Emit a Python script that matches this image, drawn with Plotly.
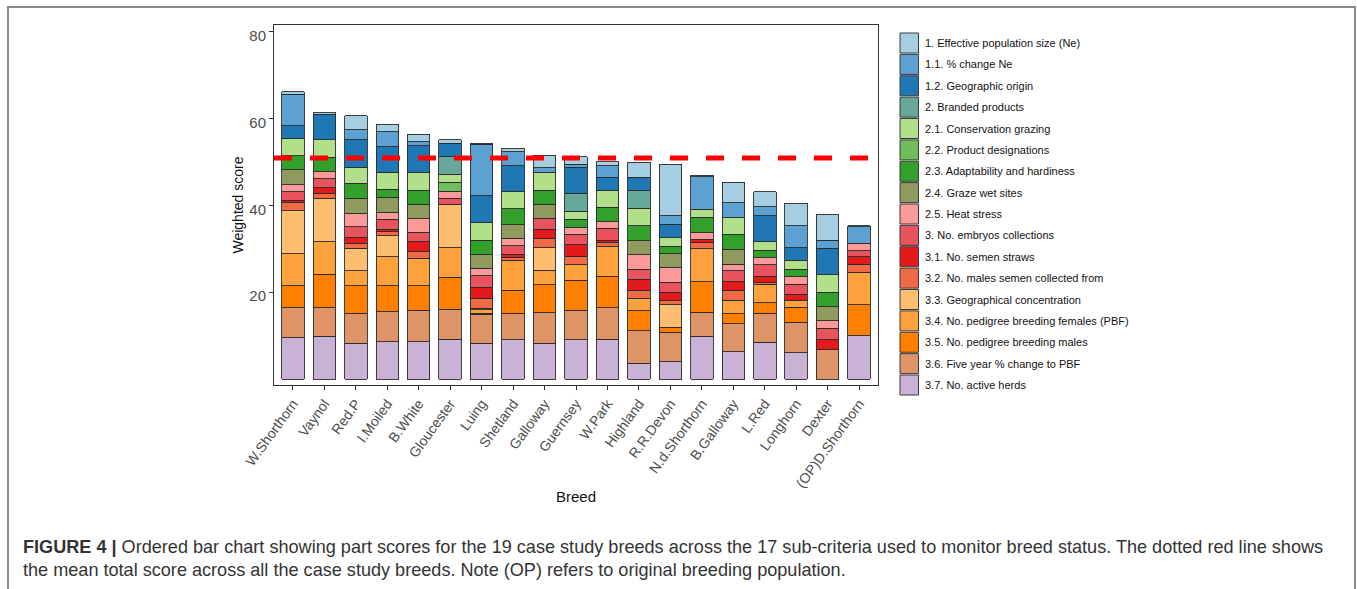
import plotly.graph_objects as go

# Breeds, ordered by total weighted score
breeds = ["W.Shorthorn", "Vaynol", "Red.P", "I.Moiled", "B.White", "Gloucester",
          "Luing", "Shetland", "Galloway", "Guernsey", "W.Park", "Highland",
          "R.R.Devon", "N.d.Shorthorn", "B.Galloway", "L.Red", "Longhorn",
          "Dexter", "(OP)D.Shorthorn"]

# Part scores per sub-criterion (one value per breed, same order as breeds)
ne            = [0.6, 0.3, 3.3, 1.7, 1.7, 0.8, 0.2, 0.8, 2.9, 1.7, 1.0, 3.5, 11.9, 0.3, 4.7, 3.5, 5.2, 5.9, 0.2]
ne_change     = [7.2, 0, 2.3, 3.5, 1.0, 0, 11.9, 3.3, 1.1, 0.7, 2.6, 0, 1.9, 7.5, 3.4, 2.1, 5.0, 1.9, 3.8]
geo_origin    = [2.9, 5.9, 6.3, 5.9, 6.2, 3.1, 6.1, 6.0, 0, 6.0, 3.0, 3.1, 3.1, 0, 0, 6.0, 2.9, 6.1, 0]
branded       = [0, 0, 0, 0, 0, 4.0, 0, 0, 0, 4.1, 0, 4.1, 0, 0, 0, 0, 0, 0, 0]
cons_grazing  = [4.0, 4.0, 3.7, 3.9, 4.0, 1.9, 4.1, 3.9, 4.1, 1.9, 3.9, 4.0, 2.0, 1.8, 3.9, 1.9, 2.1, 4.0, 0]
product_desig = [0, 0, 0, 0, 0, 2.0, 0, 0, 0, 0, 0, 0, 0, 0, 0, 0, 0, 0, 0]
adaptability  = [3.3, 3.3, 3.5, 1.8, 3.2, 0, 3.3, 3.6, 3.2, 1.8, 3.4, 3.4, 1.6, 3.6, 3.4, 1.8, 1.7, 3.3, 0]
wet_sites     = [3.4, 0, 3.4, 3.5, 3.4, 0, 3.2, 3.2, 3.3, 0, 0, 3.3, 3.4, 0, 3.4, 0, 0, 3.3, 0]
heat_stress   = [1.6, 1.6, 3.1, 1.6, 3.1, 1.7, 1.7, 1.7, 0, 1.7, 1.5, 3.3, 3.3, 1.5, 1.6, 1.6, 1.8, 1.7, 1.7]
embryos       = [2.0, 2.1, 2.5, 2.3, 2.2, 1.3, 2.7, 2.0, 2.5, 2.4, 2.7, 2.3, 2.3, 0, 2.5, 2.6, 2.3, 2.6, 1.4]
semen_straws  = [0.6, 1.3, 1.3, 0.6, 2.3, 0, 2.5, 0.7, 2.1, 2.6, 0.6, 2.5, 2.0, 0.8, 1.9, 1.5, 1.3, 2.4, 1.8]
males_semen   = [1.8, 1.2, 1.2, 0.9, 1.5, 0, 2.3, 0.6, 2.1, 2.0, 0.9, 1.9, 0.9, 1.4, 2.3, 0.4, 0, 0, 1.8]
geo_conc      = [9.9, 10.0, 5.1, 4.8, 0, 10.0, 0.3, 0, 5.2, 0, 0, 0, 5.2, 0, 0, 0, 0, 0, 0]
pbf           = [7.4, 7.5, 3.5, 6.7, 6.3, 6.9, 0.8, 7.0, 3.4, 3.6, 6.8, 2.9, 0, 7.6, 3.2, 4.2, 1.7, 0, 7.5]
pb_males      = [5.1, 7.7, 6.4, 6.0, 5.6, 7.3, 0.3, 5.3, 6.4, 6.8, 7.3, 4.6, 1.1, 7.0, 2.3, 2.5, 3.4, 0, 7.1]
pbf_change    = [6.9, 6.5, 6.9, 6.9, 7.3, 6.9, 6.7, 6.0, 7.1, 6.8, 7.2, 7.5, 6.8, 5.6, 6.4, 6.6, 7.0, 6.7, 0]
active_herds  = [9.5, 9.9, 8.2, 8.6, 8.6, 9.2, 8.2, 9.1, 8.2, 9.1, 9.2, 3.6, 4.0, 9.8, 6.3, 8.5, 6.1, 0, 10.0]

criteria = [
    ("1. Effective population size (Ne)", ne, "#A6CEE3"),
    ("1.1. % change Ne", ne_change, "#5DA1D2"),
    ("1.2. Geographic origin", geo_origin, "#1F78B4"),
    ("2. Branded products", branded, "#66A899"),
    ("2.1. Conservation grazing", cons_grazing, "#B2DF8A"),
    ("2.2. Product designations", product_desig, "#70BE5B"),
    ("2.3. Adaptability and hardiness", adaptability, "#33A02C"),
    ("2.4. Graze wet sites", wet_sites, "#8E9A5E"),
    ("2.5. Heat stress", heat_stress, "#FB9A99"),
    ("3. No. embryos collections", embryos, "#E9535D"),
    ("3.1. No. semen straws", semen_straws, "#E31A1C"),
    ("3.2. No. males semen collected from", males_semen, "#EF6A45"),
    ("3.3. Geographical concentration", geo_conc, "#FDBF6F"),
    ("3.4. No. pedigree breeding females (PBF)", pbf, "#FDA13D"),
    ("3.5. No. pedigree breeding males", pb_males, "#FF7F00"),
    ("3.6. Five year % change to PBF", pbf_change, "#DF9468"),
    ("3.7. No. active herds", active_herds, "#CAB2D6"),
]

totals = [sum(c[1][i] for c in criteria) for i in range(len(breeds))]
mean_total = sum(totals) / len(totals)

FONT = "Liberation Sans, Arial, Helvetica, sans-serif"

# pixel geometry of the plotting panel, used for placing annotations/shapes
PL, PR, PT, PB = 274, 878, 25, 385
def px(x):
    return (x - PL) / (PR - PL)
def py(y):
    return (PB - y) / (PB - PT)

fig = go.Figure()

# stack from bottom (3.7) to top (1)
for name, vals, col in reversed(criteria):
    fig.add_trace(go.Bar(
        x=breeds,
        y=[v if v > 0 else None for v in vals],
        name=name,
        marker=dict(color=col, line=dict(color="#2b2b2b", width=0.9)),
        showlegend=False,
    ))

shapes = []
annotations = []

# outer figure frame
shapes.append(dict(type="rect", xref="paper", yref="paper",
                   x0=px(8), x1=px(1355), y0=py(605), y1=py(7),
                   line=dict(color="#8a8a8a", width=2), layer="below"))

# mean total score line
shapes.append(dict(type="line", xref="paper", yref="y",
                   x0=0, x1=1, y0=mean_total, y1=mean_total,
                   line=dict(color="#FF0000", width=5, dash="18px,18px"),
                   layer="above"))

# legend: swatches and labels
row0, step = 43, 21.375
for i, (name, vals, col) in enumerate(criteria):
    cy = row0 + i * step
    shapes.append(dict(type="rect", xref="paper", yref="paper",
                       x0=px(900), x1=px(918.5), y0=py(cy + 10), y1=py(cy - 10),
                       fillcolor=col, line=dict(color="#3a3a3a", width=1)))
    annotations.append(dict(xref="paper", yref="paper", x=px(923), y=py(cy),
                            text=name, showarrow=False, xanchor="left",
                            yanchor="middle",
                            font=dict(family=FONT, size=11, color="#111111")))

# caption
cap1 = ("<b>FIGURE 4 |</b> Ordered bar chart showing part scores for the 19 case study "
        "breeds across the 17 sub-criteria used to monitor breed status. The dotted red line shows")
cap2 = ("the mean total score across all the case study breeds. Note (OP) refers to "
        "original breeding population.")
for txt, yy in ((cap1, 547), (cap2, 570)):
    annotations.append(dict(xref="paper", yref="paper", x=px(21), y=py(yy),
                            text=txt, showarrow=False, xanchor="left",
                            yanchor="middle",
                            font=dict(family=FONT, size=18.1, color="#333333")))

fig.update_layout(
    width=1357, height=589,
    margin=dict(l=PL, r=1357 - PR, t=PT, b=589 - PB, autoexpand=False),
    paper_bgcolor="white", plot_bgcolor="white",
    barmode="stack", bargap=0.285,
    shapes=shapes, annotations=annotations,
    font=dict(family=FONT),
)

fig.update_xaxes(
    range=[-0.6, len(breeds) - 0.4],
    showline=True, linecolor="#333333", linewidth=1, mirror=True,
    ticks="outside", ticklen=4, tickcolor="#333333",
    tickangle=-54,
    tickfont=dict(family=FONT, size=14, color="#4d4d4d"),
    showgrid=False,
    title=dict(text="Breed", font=dict(family=FONT, size=15, color="#111111"),
               standoff=1),
)
fig.update_yaxes(
    range=[-1.38, 81.57],
    tickvals=[20, 40, 60, 80],
    showline=True, linecolor="#333333", linewidth=1, mirror=True,
    ticks="outside", ticklen=4, tickcolor="#333333",
    ticklabelshift=4,
    tickfont=dict(family=FONT, size=15, color="#4d4d4d"),
    showgrid=False, zeroline=False,
    title=dict(text="Weighted score", font=dict(family=FONT, size=14, color="#111111"),
               standoff=2),
)

fig.write_html("out.html")
